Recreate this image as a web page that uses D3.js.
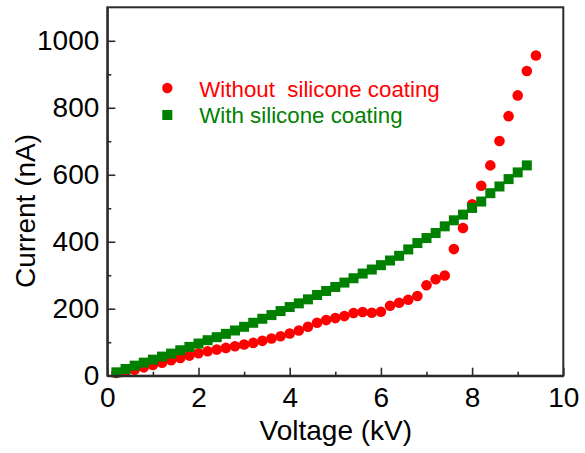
<!DOCTYPE html>
<html>
<head>
<meta charset="utf-8">
<script src="https://cdn.jsdelivr.net/npm/d3@7"></script>
<style>
  html, body { margin: 0; padding: 0; background: #fff; }
  svg { display: block; font-family: "Liberation Sans", Arial, sans-serif; }
</style>
</head>
<body>
<svg id="chart" width="585" height="453"></svg>
<script>
// Data
const voltageRed = [0.2,0.4,0.6,0.8,1.0,1.2,1.4,1.6,1.8,2.0,2.2,2.4,2.6,2.8,3.0,3.2,3.4,3.6,3.8,4.0,4.2,4.4,4.6,4.8,5.0,5.2,5.4,5.6,5.8,6.0,6.2,6.4,6.6,6.8,7.0,7.2,7.4,7.6,7.8,8.0,8.2,8.4,8.6,8.8,9.0,9.2,9.4];
const currentWithout = [8,12,18,25,32,39,46,53,60,67,73,78,83,88,93,98,104,111,118,126,135,146,158,166,172,178,187,190,188,191,209,218,227,238,270,288,299,378,441,512,567,628,701,775,837,910,956];
const voltageGreen = [0.2,0.4,0.6,0.8,1.0,1.2,1.4,1.6,1.8,2.0,2.2,2.4,2.6,2.8,3.0,3.2,3.4,3.6,3.8,4.0,4.2,4.4,4.6,4.8,5.0,5.2,5.4,5.6,5.8,6.0,6.2,6.4,6.6,6.8,7.0,7.2,7.4,7.6,7.8,8.0,8.2,8.4,8.6,8.8,9.0,9.2];
const currentWith = [10,20,30,39,48,57,66,76,86,96,106,115,125,135,146,158,170,181,193,205,216,228,241,253,265,278,291,305,317,330,344,358,377,396,411,426,446,464,481,501,520,545,565,587,607,628];
const xTicks = [0,2,4,6,8,10];
const xMinorTicks = [1,3,5,7,9];
const yTicks = [0,200,400,600,800,1000];
const yMinorTicks = [100,300,500,700,900];
const legendLabels = ["Without  silicone coating", "With silicone coating"];
const xTitle = "Voltage (kV)";
const yTitle = "Current (nA)";

const RED = "#ff0000", GREEN = "#008000", AXIS = "#2b2b2b";
const FONT = "'Liberation Sans', Arial, sans-serif";

const svg = d3.select("#chart");
const pL = 107.3, pR = 563.3, pT = 7.3, pB = 375.7;
const x = d3.scaleLinear().domain([0, 10]).range([pL, pR]);
const y = d3.scaleLinear().domain([0, 1100]).range([pB, pT]);

// Markers: red first, green on top
const redData = voltageRed.map((v, i) => ({v, c: currentWithout[i]}));
const greenData = voltageGreen.map((v, i) => ({v, c: currentWith[i]}));

svg.append("g").selectAll("circle").data(redData).join("circle")
  .attr("cx", d => x(d.v)).attr("cy", d => y(d.c)).attr("r", 5.3).attr("fill", RED);

const sq = 10;
svg.append("g").selectAll("rect").data(greenData).join("rect")
  .attr("x", d => x(d.v) - sq/2).attr("y", d => y(d.c) - sq/2)
  .attr("width", sq).attr("height", sq).attr("fill", GREEN);

// Frame
svg.append("rect").attr("x", pL).attr("y", pT)
  .attr("width", pR - pL).attr("height", pB - pT)
  .attr("fill", "none").attr("stroke", AXIS).attr("stroke-width", 2);

// Axes (ticks inward)
const xAxis = d3.axisBottom(x).tickValues(xTicks).tickSizeInner(-8).tickSizeOuter(0).tickPadding(11).tickFormat(d3.format("d"));
const gx = svg.append("g").attr("transform", `translate(0,${pB})`).call(xAxis);
gx.select(".domain").attr("stroke", AXIS).attr("stroke-width", 2);
gx.selectAll(".tick line").attr("stroke", AXIS).attr("stroke-width", 1.6);
gx.selectAll(".tick text").attr("font-size", 28).attr("fill", "#000").attr("font-family", FONT);

const xMinor = d3.axisBottom(x).tickValues(xMinorTicks).tickSizeInner(-4).tickSizeOuter(0).tickFormat("");
const gxm = svg.append("g").attr("transform", `translate(0,${pB})`).call(xMinor);
gxm.select(".domain").remove();
gxm.selectAll(".tick line").attr("stroke", AXIS).attr("stroke-width", 1.6);

const yAxis = d3.axisLeft(y).tickValues(yTicks).tickSizeInner(-8).tickSizeOuter(0).tickPadding(8).tickFormat(d3.format("d"));
const gy = svg.append("g").attr("transform", `translate(${pL},0)`).call(yAxis);
gy.select(".domain").attr("stroke", AXIS).attr("stroke-width", 2);
gy.selectAll(".tick line").attr("stroke", AXIS).attr("stroke-width", 1.6);
gy.selectAll(".tick text").attr("font-size", 28).attr("fill", "#000").attr("font-family", FONT);

const yMinor = d3.axisLeft(y).tickValues(yMinorTicks).tickSizeInner(-4).tickSizeOuter(0).tickFormat("");
const gym = svg.append("g").attr("transform", `translate(${pL},0)`).call(yMinor);
gym.select(".domain").remove();
gym.selectAll(".tick line").attr("stroke", AXIS).attr("stroke-width", 1.6);

// Axis titles
svg.append("text").attr("x", (pL + pR) / 2 + 0.5).attr("y", 440)
  .attr("text-anchor", "middle").attr("font-size", 28).attr("fill", "#000").attr("font-family", FONT).text(xTitle);
svg.append("text").attr("transform", `translate(35,211) rotate(-90)`)
  .attr("text-anchor", "middle").attr("font-size", 28).attr("fill", "#000").attr("font-family", FONT).text(yTitle);

// Legend
const leg = svg.append("g");
leg.append("circle").attr("cx", 167.3).attr("cy", 88).attr("r", 5.2).attr("fill", RED);
leg.append("text").attr("x", 199.3).attr("y", 96.7).attr("font-size", 22.3).attr("fill", RED).attr("font-family", FONT)
  .style("white-space", "pre").text(legendLabels[0]);
leg.append("rect").attr("x", 167.3 - 5).attr("y", 115 - 5).attr("width", 10).attr("height", 10).attr("fill", GREEN);
leg.append("text").attr("x", 199.3).attr("y", 123.3).attr("font-size", 22.3).attr("fill", GREEN).attr("font-family", FONT)
  .text(legendLabels[1]);
</script>
</body>
</html>
